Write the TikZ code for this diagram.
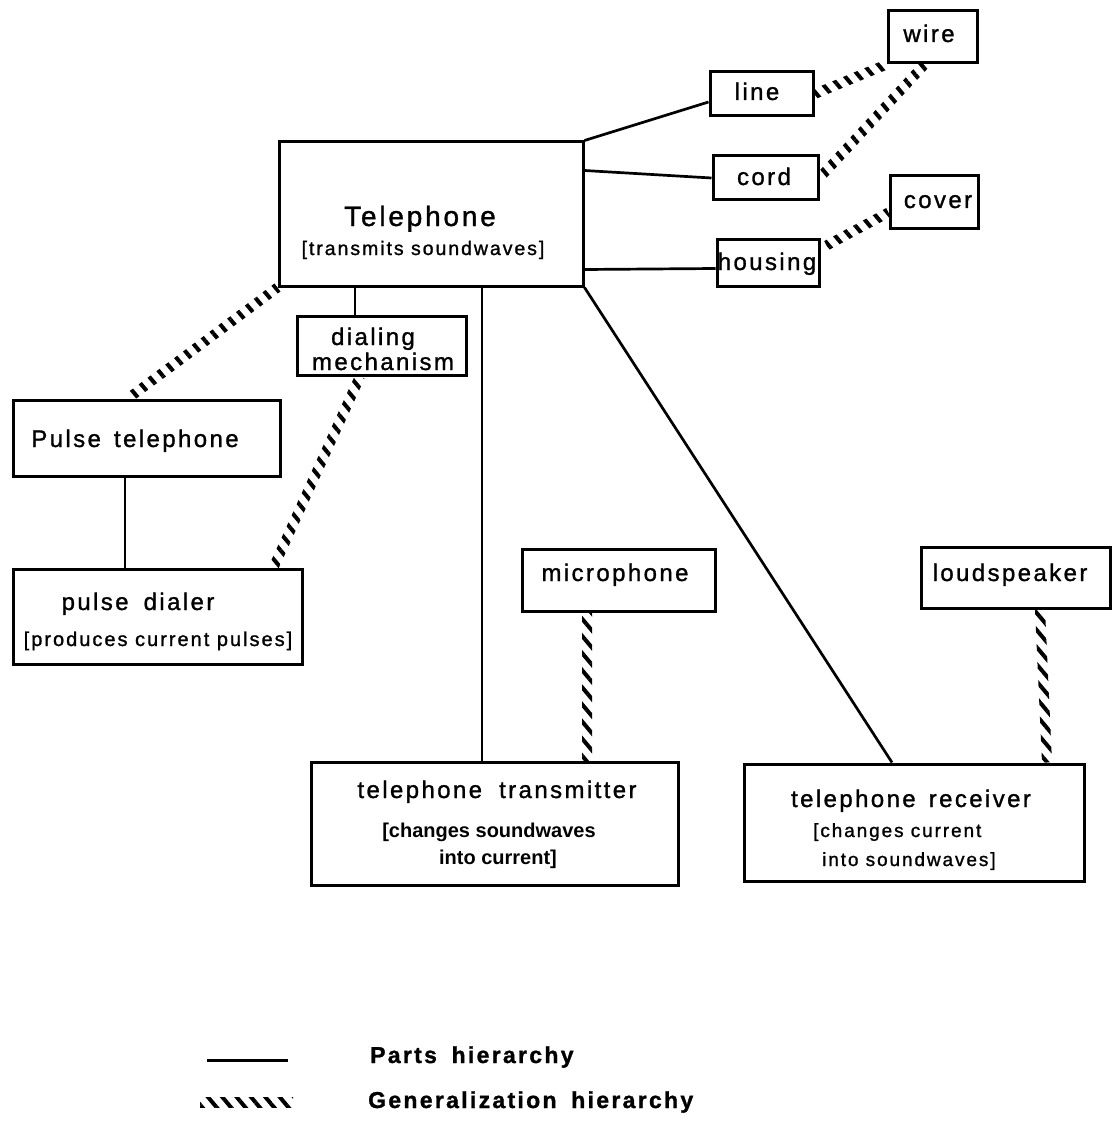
\documentclass[tikz,border=0pt]{standalone}
\usepackage{fontspec}
\setmainfont{Liberation Sans}[LetterSpace=10, FakeBold=1.2]
\newfontfamily\plainsans{Liberation Sans}
\usetikzlibrary{calc,patterns.meta}

\newcommand\txtsize[1]{\fontsize{#1}{#1}\selectfont}

\tikzset{
  box/.style={draw, line width=3pt, inner sep=0pt},
  lbl/.style={inner sep=0pt, anchor=base},
  part/.style={draw, line width=2.7pt},
  % generalization link: a narrow band filled with slanted stripes
  gen/.style={
    pattern={Lines[angle=-50, distance=11pt, line width=4pt]},
    to path={
      ($(\tikztostart)!5pt!90:(\tikztotarget)$) --
      ($(\tikztotarget)!5pt!-90:(\tikztostart)$) --
      ($(\tikztotarget)!5pt!90:(\tikztostart)$) --
      ($(\tikztostart)!5pt!-90:(\tikztotarget)$) -- cycle}
  }
}

\begin{document}
\begin{tikzpicture}[x=1pt, y=-1pt]
\useasboundingbox (0,0) rectangle (1114,1123);

% ---- boxes ----
\node[box, minimum width=304pt, minimum height=144pt] (tel)     at (431,214)   {};
\node[box, minimum width=103pt, minimum height=44pt]  (line)    at (761.5,94)  {};
\node[box, minimum width=89pt,  minimum height=52pt]  (wire)    at (932.5,37)  {};
\node[box, minimum width=105pt, minimum height=44pt]  (cord)    at (765.5,178) {};
\node[box, minimum width=88pt,  minimum height=53pt]  (cover)   at (934,202.5) {};
\node[box, minimum width=102pt, minimum height=47pt]  (housing) at (768,262.5) {};
\node[box, minimum width=169pt, minimum height=59pt]  (dial)    at (381.5,345.5) {};
\node[box, minimum width=267pt, minimum height=76pt]  (ptel)    at (146.5,438) {};
\node[box, minimum width=289pt, minimum height=95pt]  (pdial)   at (157.5,616.5) {};
\node[box, minimum width=193pt, minimum height=62pt]  (mic)     at (618.5,580) {};
\node[box, minimum width=189pt, minimum height=61pt]  (ls)      at (1015.5,577.5) {};
\node[box, minimum width=367pt, minimum height=123pt] (trans)   at (494.5,823.5) {};
\node[box, minimum width=340pt, minimum height=117pt] (rec)     at (914,822.5) {};

% ---- texts ----
\node[lbl, font=\txtsize{28}]   (telname)  at (420,226) {Telephone};
\node[lbl, font=\txtsize{19.5}] (teldesc)  at (423,255) {[transmits soundwaves]};
\node[lbl, font=\txtsize{24}]   (linet)    at (757,100) {line};
\node[lbl, font=\txtsize{24}]   (wiret)    at (929,42)  {wire};
\node[lbl, font=\txtsize{24}]   (cordt)    at (764,185) {cord};
\node[lbl, font=\txtsize{24}]   (covert)   at (938,208) {cover};
\node[lbl, font=\txtsize{24}]   (housingt) at (767,270) {housing};
\node[lbl, font=\txtsize{24}]   (dialt)    at (373,345) {dialing};
\node[lbl, font=\txtsize{24}]   (mecht)    at (383,370) {mechanism};
\node[lbl, font=\txtsize{24}]   (ptelt)    at (135,447) {Pulse\hspace{4pt} telephone};
\node[lbl, font=\txtsize{24}]   (pdialt)   at (138,610) {pulse\hspace{6pt} dialer};
\node[lbl, font=\txtsize{20}]   (pdiald)   at (158,646) {[produces current pulses]};
\node[lbl, font=\txtsize{24}]   (mict)     at (615,581) {microphone};
\node[lbl, font=\txtsize{24}]   (lst)      at (1010,581) {loudspeaker};
\node[lbl, font=\txtsize{24}]   (transt)   at (497,798) {telephone\hspace{8pt} transmitter};
\node[lbl, font=\plainsans\bfseries\txtsize{20}] (transd1) at (489,837) {[changes soundwaves};
\node[lbl, font=\plainsans\bfseries\txtsize{20}] (transd2) at (498,864) {into current]};
\node[lbl, font=\txtsize{24}]   (rect)     at (911,807) {telephone\hspace{4pt} receiver};
\node[lbl, font=\txtsize{19}, anchor=base west] (recd1) at (813,837) {[changes current};
\node[lbl, font=\txtsize{19}, anchor=base west] (recd2) at (822,866) {into soundwaves]};

% ---- parts hierarchy ----
\draw[part] (tel.north east) -- ([yshift=-8pt]line.west);
\draw[part] ([yshift=-30pt]tel.north east) -- (cord.west);
\draw[part] ([yshift=18pt]tel.south east) -- ([yshift=-6pt]housing.west);
\draw[part] ([xshift=-26.5pt]dial.north) -- ([xshift=-26.5pt]dial.north |- tel.south);
\draw[part] ([xshift=-12.5pt]trans.north) -- ([xshift=-12.5pt]trans.north |- tel.south);
\draw[part] (tel.south east) -- ([xshift=-22pt]rec.north);
\draw[part] ([xshift=-21.5pt]ptel.south) -- ([xshift=-21.5pt]ptel.south |- pdial.north);

% ---- generalization hierarchy ----
\coordinate (wireS)  at ([xshift=-8pt]wire.south);
\coordinate (houNE)  at ([xshift=6pt,yshift=-8pt]housing.north east);
\coordinate (covW)   at ([yshift=-10pt]cover.west);
\coordinate (ptelN)  at ([xshift=-18.5pt]ptel.north);
\coordinate (dialS)  at ([xshift=-21.5pt]dial.south);
\coordinate (pdialN) at ([xshift=-30pt]pdial.north east);
\coordinate (micS)   at ([xshift=-31.5pt]mic.south);
\coordinate (transN) at ([xshift=-31.5pt]mic.south |- trans.north);
\coordinate (lsS)    at ([xshift=24.5pt]ls.south);
\coordinate (recN)   at ([xshift=133pt]rec.north);

\path[gen] (line.east) to (wire.south west);
\path[gen] (cord.east) to (wireS);
\path[gen] (houNE) to (covW);
\path[gen] (tel.south west) to (ptelN);
\path[gen] (dialS) to (pdialN);
\path[gen] (micS) to (transN);
\path[gen] (lsS) to (recN);

% ---- legend ----
\coordinate (partA) at (207,1060);
\coordinate (partB) at (288,1060);
\coordinate (genA)  at (200,1102);
\coordinate (genB)  at (293,1102);
\draw[part, line width=3pt] (partA) -- (partB);
\path[gen] (genA) to (genB);
\node[lbl, anchor=base west, font=\bfseries\txtsize{23}] (legpart) at (370,1063) {Parts\hspace{6pt} hierarchy};
\node[lbl, anchor=base west, font=\bfseries\txtsize{23}] (leggen)  at (368,1108) {Generalization\hspace{6pt} hierarchy};
\end{tikzpicture}
\end{document}
